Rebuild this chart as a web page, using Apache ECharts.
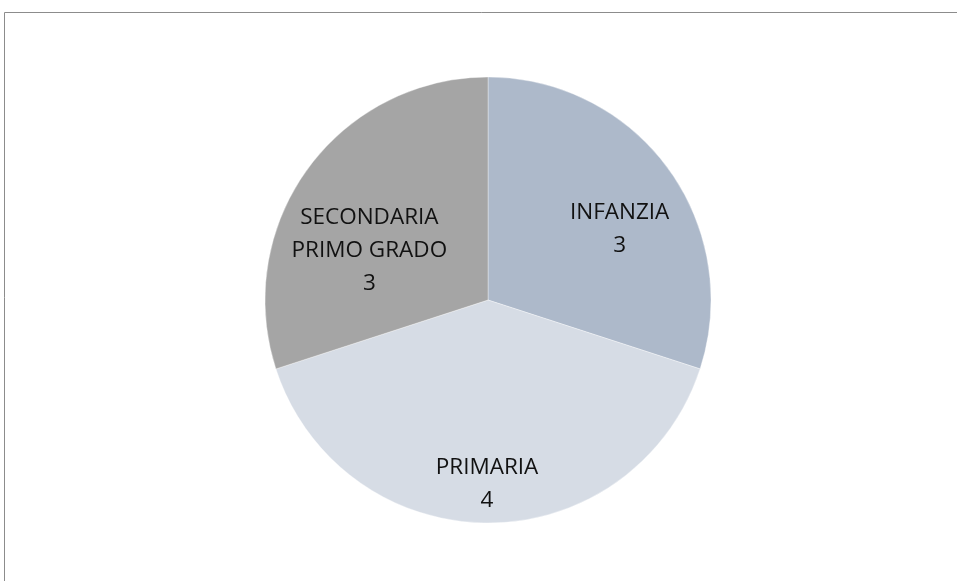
<!DOCTYPE html>
<html>
<head>
<meta charset="utf-8">
<script src="https://cdn.jsdelivr.net/npm/echarts@6/dist/echarts.min.js"></script>
<style>
  html, body { margin: 0; padding: 0; background: #fff; }
  #chart { width: 957px; height: 581px; }
</style>
</head>
<body>
<div id="chart"></div>
<script>
// data
const categories = ["INFANZIA", "PRIMARIA", "SECONDARIA\nPRIMO GRADO"];
const values = [3, 4, 3];
const colors = ["#adb9ca", "#d6dce5", "#a5a5a5"];
// label nudges away from ECharts' default inside spot (Excel puts them elsewhere)
const labelShift = [[39, -4], [-1, 70], [-26, 18]];

const chart = echarts.init(document.getElementById("chart"));

const options = {
  animation: false,
  graphic: [
    {
      // chart area frame, runs off the right and bottom edges
      type: "rect",
      shape: { x: 4.5, y: 12.5, width: 1000, height: 1000 },
      style: { fill: "none", stroke: "#8c8c8c", lineWidth: 1 },
      silent: true,
    },
  ],
  series: [
    {
      type: "pie",
      center: [488, 300],
      radius: 223,
      startAngle: 90,
      clockwise: true,
      itemStyle: { borderColor: "rgba(255,255,255,0.6)", borderWidth: 0.6 },
      label: {
        show: true,
        position: "inside",
        formatter: "{b}\n{c}",
        fontFamily: "Open Sans",
        fontSize: 22.5,
        lineHeight: 33,
        color: "#111",
        align: "center",
      },
      labelLine: { show: false },
      labelLayout: (params) => ({
        dx: labelShift[params.dataIndex][0],
        dy: labelShift[params.dataIndex][1],
      }),
      emphasis: { disabled: true },
      data: categories.map((name, i) => ({
        name: name,
        value: values[i],
        itemStyle: { color: colors[i] },
      })),
    },
  ],
};

chart.setOption(options);
</script>
</body>
</html>
